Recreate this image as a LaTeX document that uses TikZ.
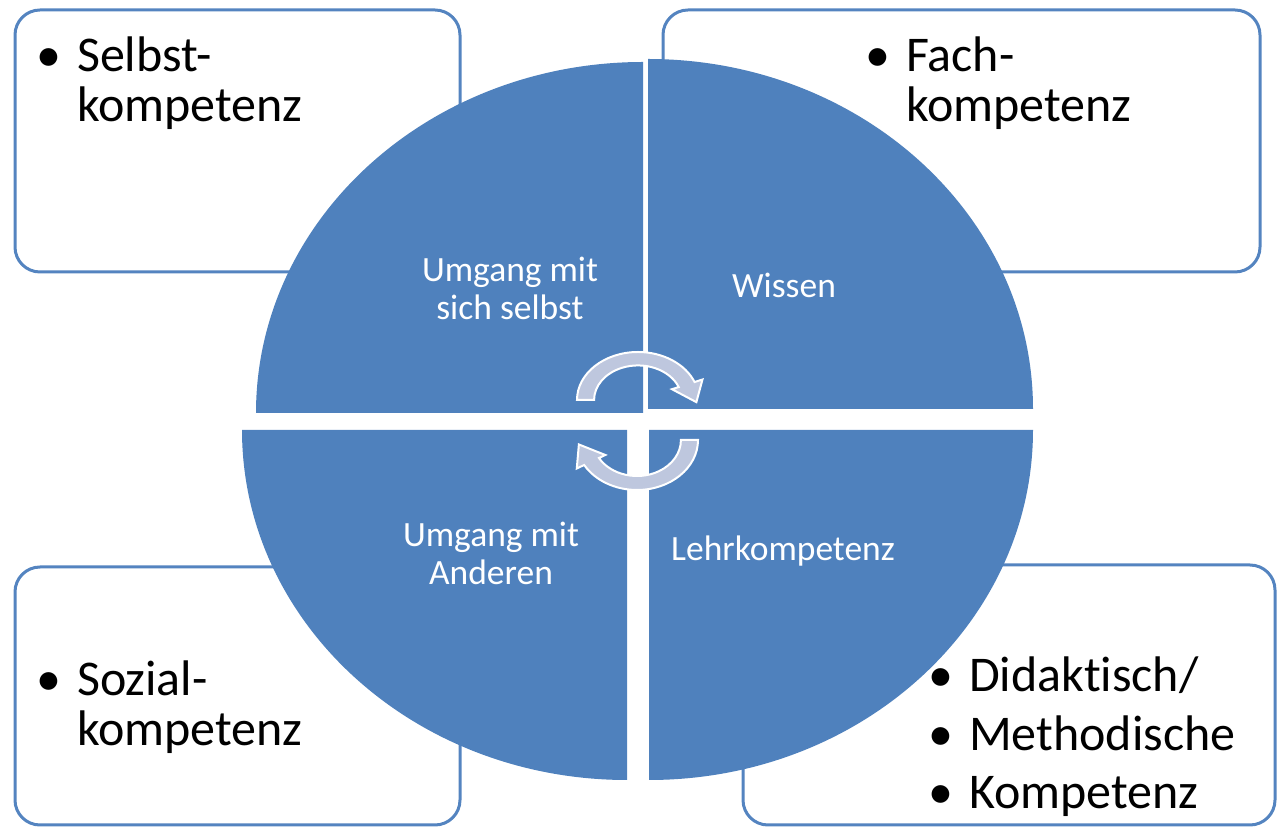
\documentclass[tikz,border=0pt]{standalone}
\usepackage{fontspec}
\setmainfont{Carlito}[Ligatures=NoCommon]
\usepackage{tikz}
\usetikzlibrary{positioning}
\definecolor{quadblue}{RGB}{79,129,189}
\definecolor{boxline}{RGB}{84,132,192}
\definecolor{cyclegray}{RGB}{190,199,222}
\tikzstyle{kbox}=[draw=boxline,line width=3pt,rounded corners=25pt,fill=white,inner sep=0pt]
\tikzstyle{klabel}=[font=\fontsize{50}{49}\selectfont,anchor=base west,inner sep=0pt]
\tikzstyle{qlabel}=[text=white,font=\fontsize{35.5}{38}\selectfont,align=center]
\tikzstyle{cyc}=[fill=cyclegray,draw=white,line width=2pt]

\begin{document}
\begin{tikzpicture}[x=1pt,y=1pt]
        \useasboundingbox (0,0) rectangle (1278,827);
        % Kompetenz boxes
        \node[kbox,minimum width=445,minimum height=262] (selbstbox) at (237.5,686) {};
        \node[kbox,minimum width=597,minimum height=262] (fachbox) at (961.5,686) {};
        \node[kbox,minimum width=445,minimum height=258] (sozialbox) at (237.5,131) {};
        \node[kbox,minimum width=532,minimum height=260] (methodbox) at (1009,132) {};
        % quadrants
        \fill[quadblue] (643,414) -- ++(-387,0) arc[start angle=180,end angle=90,x radius=387,y radius=351] -- cycle;
        \fill[quadblue] (648,418) -- ++(0,350) arc[start angle=90,end angle=0,x radius=385,y radius=350] -- cycle;
        \fill[quadblue] (627,397) -- ++(0,-350) arc[start angle=270,end angle=180,x radius=385,y radius=350] -- cycle;
        \fill[quadblue] (649,397) -- ++(384,0) arc[start angle=0,end angle=-90,x radius=384,y radius=350] -- cycle;
        \node[qlabel] (selbst) at (510,539) {Umgang mit\\sich selbst};
        \node[qlabel] (wissen) at (784,542) {Wissen};
        \node[qlabel] (andere) at (491,274) {Umgang mit\\Anderen};
        \node[qlabel] (lehr) at (783,276) {Lehrkompetenz};
        % cycle arrows
        \begin{scope}[shift={(638,427)},xscale=61,yscale=48]
          \filldraw[cyc] (180:1) arc[start angle=180,end angle=22,radius=1] -- (22:1.14)
            -- (0.957,-0.045) -- (22:0.6) -- (22:0.72) arc[start angle=22,end angle=180,radius=0.72] -- cycle;
        \end{scope}
        \begin{scope}[shift={(637,387)},xscale=61,yscale=50]
          \filldraw[cyc] (0:1) arc[start angle=0,end angle=-150,radius=1] -- (210:1.14)
            -- (-0.953,-0.089) -- (210:0.6) -- (210:0.72) arc[start angle=210,end angle=360,radius=0.72] -- cycle;
        \end{scope}
        % box texts
        \node[klabel] (selbsttext) at (36,755) {\begin{tabular}[t]{@{}l@{\hspace{16pt}}l@{}}\textbullet & Selbst-\\ & kompetenz\end{tabular}};
        \node[klabel] (fachtext) at (865,755) {\begin{tabular}[t]{@{}l@{\hspace{16pt}}l@{}}\textbullet & Fach-\\ & kompetenz\end{tabular}};
        \node[klabel] (sozialtext) at (36,131) {\begin{tabular}[t]{@{}l@{\hspace{16pt}}l@{}}\textbullet & Sozial-\\ & kompetenz\end{tabular}};
        \node[klabel] (methodtext) at (928,135) {\begin{tabular}[t]{@{}l@{\hspace{16pt}}l@{}}\textbullet & Didaktisch/\\[9pt] \textbullet & Methodische\\[9pt] \textbullet & Kompetenz\end{tabular}};
      \end{tikzpicture}
\end{document}
